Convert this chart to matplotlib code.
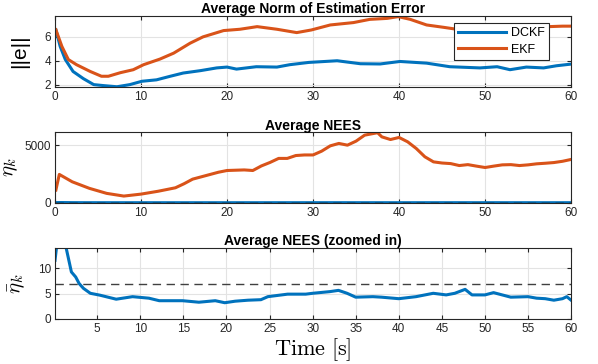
import matplotlib
matplotlib.use('Agg')
import matplotlib.pyplot as plt

# ── data ───────────────────────────────────────────────────────────────────
t_dckf_norm = [0.1, 0.6, 1.2, 2.1, 3.3, 4.5, 5.6, 7.2, 8.7, 10.1, 11.8, 13.4,
               14.9, 16.9, 18.8, 20.0, 21.1, 23.4, 25.8, 27.3, 29.5, 32.8,
               35.5, 37.8, 40.1, 43.2, 45.9, 49.4, 51.4, 52.9, 54.8, 56.8,
               58.3, 60.0]
dckf_norm = [6.6, 5.2, 4.1, 3.1, 2.5, 2.0, 1.92, 1.82, 2.0, 2.28, 2.4, 2.7,
             2.97, 3.17, 3.4, 3.47, 3.3, 3.5, 3.47, 3.67, 3.86, 4.0,
             3.75, 3.73, 3.94, 3.8, 3.5, 3.4, 3.5, 3.25, 3.47, 3.4,
             3.58, 3.72]

t_ekf_norm = [0.1, 0.8, 1.55, 2.5, 4.1, 5.4, 6.2, 7.6, 9.1, 10.3, 12.2, 13.8,
              15.7, 17.2, 19.6, 21.5, 23.5, 25.8, 28.1, 29.8, 32.0, 34.7,
              36.6, 38.6, 39.9, 41.3, 43.2, 45.2, 46.7, 48.5, 51.0, 54.0,
              57.0, 59.0, 60.0]
ekf_norm = [6.6, 5.2, 4.1, 3.67, 3.1, 2.7, 2.7, 3.0, 3.25, 3.67, 4.14, 4.64,
            5.47, 6.0, 6.53, 6.64, 6.86, 6.64, 6.36, 6.58, 7.0, 7.2,
            7.47, 7.55, 7.7, 7.47, 7.0, 6.8, 6.64, 6.6, 6.75, 6.8,
            6.85, 6.9, 6.9]

t_ekf_nees = [0.1, 0.5, 2, 4, 6, 8, 10, 12, 14, 15, 16, 17, 18, 19, 20, 22,
              23, 24, 25, 26, 27, 28, 29, 30, 31, 32, 33, 34, 35, 36, 37,
              37.5, 38, 39, 40, 41, 42, 43, 44, 45, 46, 47, 48, 49, 50, 51,
              52, 53, 54, 55, 56, 57, 58, 59, 60]
ekf_nees = [1100, 2460, 1820, 1250, 815, 580, 750, 1000, 1300, 1650, 2050,
            2250, 2450, 2650, 2800, 2850, 2800, 3200, 3500, 3850, 3850, 4100,
            4150, 4150, 4480, 4940, 5150, 5000, 5350, 5870, 6010, 6080, 5720,
            5490, 5670, 5290, 4710, 3990, 3550, 3450, 3400, 3230, 3310, 3180,
            3060, 3180, 3290, 3310, 3230, 3290, 3380, 3430, 3490, 3600, 3760]

t_dckf_nees = [0.1, 0.4, 0.7, 1.4, 2.0, 2.5, 2.9, 3.4, 4.2, 5.3, 7.2, 9.1,
               11.0, 12.2, 14.9, 16.8, 18.7, 19.8, 21.0, 22.5, 24.0, 24.8,
               27.1, 29.2, 30, 32, 33, 34, 35, 37, 38, 40, 42, 44, 45.5, 46.5,
               47.7, 48.5, 50, 51, 52, 53, 55, 56, 57, 58, 59, 59.5, 60]
dckf_nees = [11.6, 16, 18, 14, 9.3, 8.3, 7.0, 6.05, 5.07, 4.7, 3.9, 4.4,
             4.1, 3.6, 3.6, 3.3, 3.6, 3.2, 3.5, 3.7, 3.8, 4.4,
             4.9, 4.9, 5.07, 5.4, 5.65, 5.07, 4.3, 4.4, 4.3, 4.0, 4.4, 5.07,
             4.75, 5.07, 5.85, 4.75, 4.75, 5.2, 4.75, 4.3, 4.4, 4.1, 4.0,
             3.7, 4.0, 4.4, 3.7]

nees_bound = 6.86

c_dckf = '#0072BD'
c_ekf = '#D95319'

plt.rcParams['mathtext.fontset'] = 'cm'
plt.rcParams['font.family'] = ['Liberation Sans', 'DejaVu Sans']

fig = plt.figure(figsize=(5.98, 3.64), dpi=100)
ax1 = fig.add_axes([0.092, 0.761, 0.863, 0.195])
ax2 = fig.add_axes([0.092, 0.443, 0.863, 0.193])
ax3 = fig.add_axes([0.092, 0.124, 0.863, 0.194])


def style(ax):
    ax.grid(True, color='#E3E3E3', lw=0.8)
    ax.set_axisbelow(True)
    ax.tick_params(direction='in', length=3, labelsize=8.5, colors='#262626',
                   top=True, right=True, pad=3)
    for s in ax.spines.values():
        s.set_color('#262626')
        s.set_linewidth(0.8)


# ── panel 1: norm of estimation error ─────────────────────────────────────
ax1.plot(t_dckf_norm, dckf_norm, color=c_dckf, lw=2.2, label='DCKF')
ax1.plot(t_ekf_norm, ekf_norm, color=c_ekf, lw=2.2, label='EKF')
ax1.set_xlim(0, 60)
ax1.set_ylim(1.8, 7.75)
ax1.set_xticks(range(0, 61, 10))
ax1.set_yticks([2, 4, 6])
ax1.set_title('Average Norm of Estimation Error', fontsize=10,
              fontweight='bold', pad=2)
ax1.set_ylabel('||e||', fontsize=15)
ax1.yaxis.set_label_coords(-0.05, 0.5)
leg = ax1.legend(loc='upper right', fontsize=9, handlelength=3.8,
                 handletextpad=0.4, fancybox=False, framealpha=1,
                 edgecolor='#262626', borderpad=0.35, labelspacing=0.35,
                 borderaxespad=0, bbox_to_anchor=(0.957, 0.90))
leg.get_frame().set_linewidth(0.8)
style(ax1)

# ── panel 2: NEES ─────────────────────────────────────────────────────────
ax2.plot(t_ekf_nees, ekf_nees, color=c_ekf, lw=2.2)
ax2.plot(t_dckf_nees, dckf_nees, color=c_dckf, lw=2.2)
ax2.axhline(nees_bound, color='black', lw=1, ls=(0, (6, 4)))
ax2.set_xlim(0, 60)
ax2.set_ylim(0, 6100)
ax2.set_xticks(range(0, 61, 10))
ax2.set_yticks([0, 5000])
ax2.set_title('Average NEES', fontsize=10, fontweight='bold', pad=2)
ax2.set_ylabel(r'$\eta_k$', fontsize=15)
ax2.yaxis.set_label_coords(-0.068, 0.5)
style(ax2)

# ── panel 3: NEES zoomed ──────────────────────────────────────────────────
ax3.plot(t_dckf_nees, dckf_nees, color=c_dckf, lw=2.2)
ax3.axhline(nees_bound, color='#404040', lw=1, ls=(0, (6, 4)))
ax3.set_xlim(0.1, 60)
ax3.set_ylim(0, 14)
ax3.set_xticks(range(5, 61, 5))
ax3.set_yticks([0, 5, 10])
ax3.set_title('Average NEES (zoomed in)', fontsize=10, fontweight='bold', pad=2)
ax3.set_ylabel(r'$\bar{\eta}_k$', fontsize=15)
ax3.yaxis.set_label_coords(-0.055, 0.5)
ax3.set_xlabel(r'$\mathrm{Time\ [s]}$', fontsize=16, labelpad=1)
style(ax3)

fig.savefig('out.png', dpi=100)
